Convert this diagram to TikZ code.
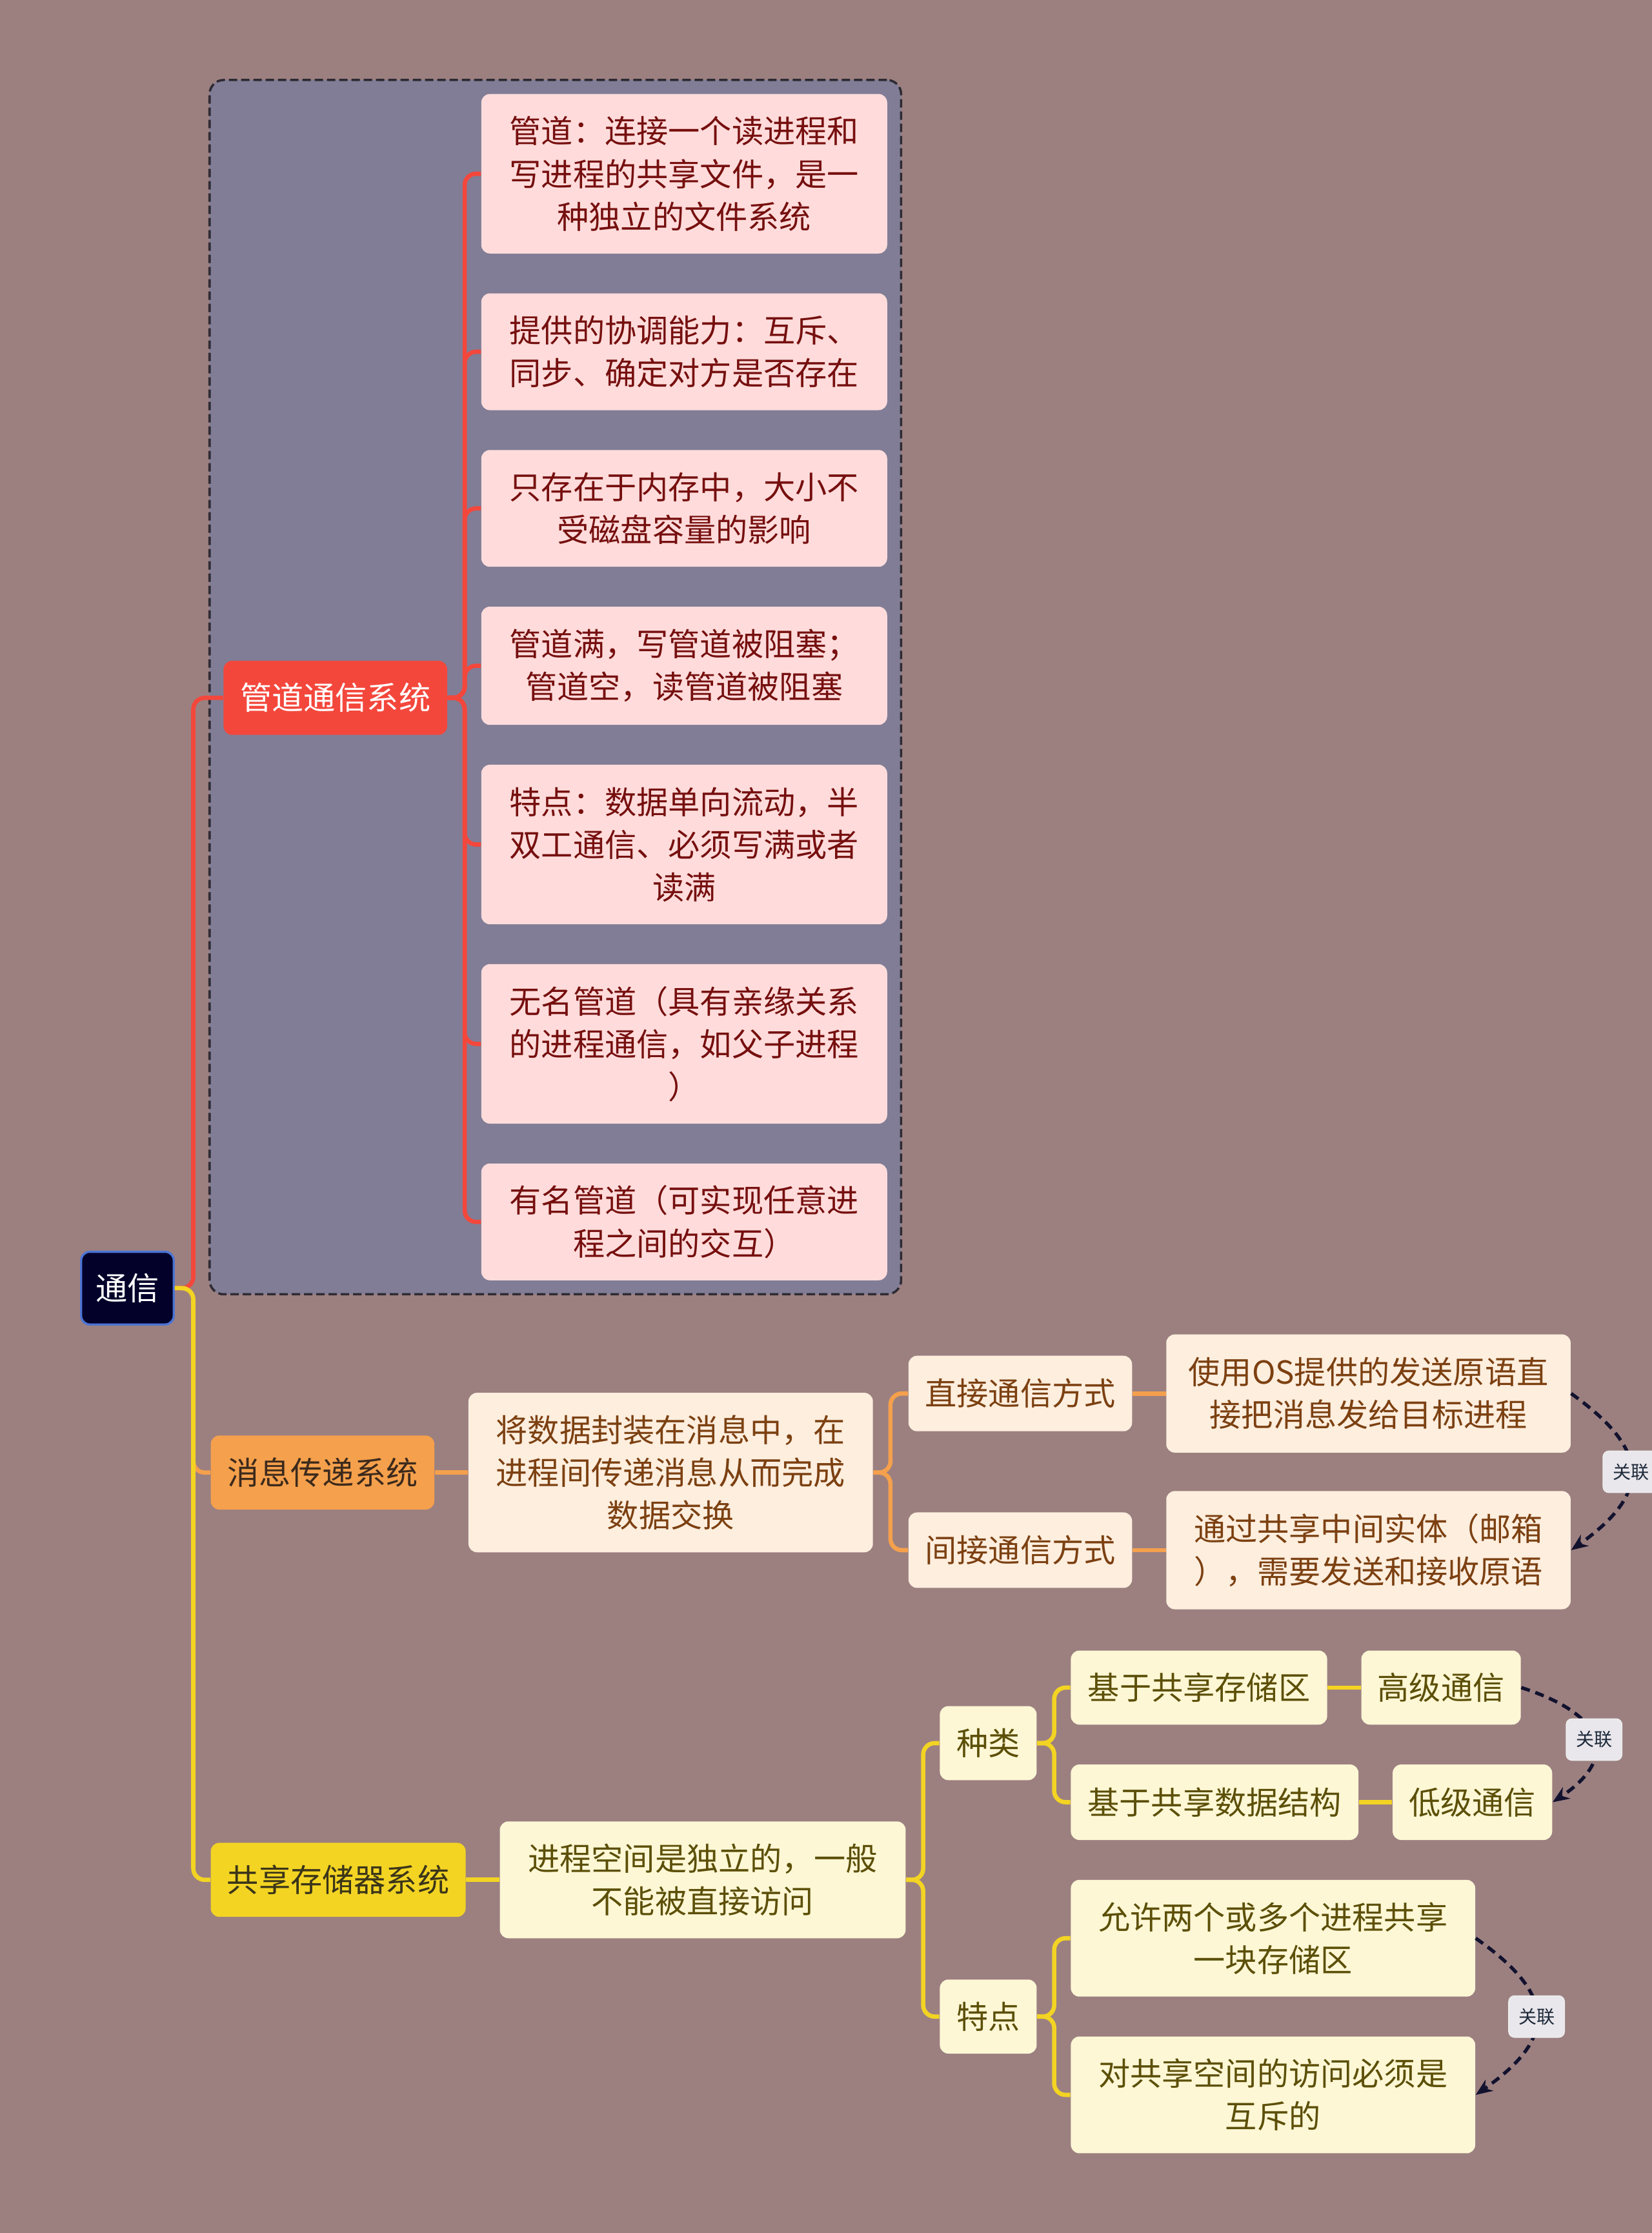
\documentclass[tikz,border=0pt]{standalone}
\usepackage{fontspec}
\newfontfamily\cjk{Noto Sans CJK SC}
\usetikzlibrary{arrows.meta,fit,backgrounds}

\newcommand{\pxl}{0.22069mm}

\definecolor{pagebg}{HTML}{9C8080}
\definecolor{grpbg}{HTML}{817D96}
\definecolor{grpline}{HTML}{2E2A33}
\definecolor{rootnavy}{HTML}{03002A}
\definecolor{rootblue}{HTML}{4C74D4}
\definecolor{mainred}{HTML}{F4473C}
\definecolor{leafpink}{HTML}{FFDCDB}
\definecolor{txtred}{HTML}{760F0F}
\definecolor{mainorg}{HTML}{F5A04C}
\definecolor{txtdark}{HTML}{3C2A1C}
\definecolor{leafpeach}{HTML}{FDEEDE}
\definecolor{txtbrown}{HTML}{7C4011}
\definecolor{mainyel}{HTML}{F3D423}
\definecolor{txtyel}{HTML}{3B3519}
\definecolor{leafcream}{HTML}{FDF7D5}
\definecolor{txtolive}{HTML}{5C4F08}
\definecolor{relnavy}{HTML}{12122E}
\definecolor{tagfill}{HTML}{E9E7EC}
\definecolor{tagtext}{HTML}{1E2A3A}

\tikzset{
  topic/.style={rounded corners=6*\pxl, inner sep=0pt, align=center,
    font=\cjk\fontsize{14}{18.8}\selectfont},
  rootbox/.style={topic, fill=rootnavy, draw=rootblue, line width=1.5*\pxl,
    text=white, minimum width=65*\pxl, minimum height=51*\pxl},
  redmain/.style={topic, fill=mainred, text=white,
    minimum width=157*\pxl, minimum height=52*\pxl},
  redleaf/.style={topic, fill=leafpink, text=txtred, minimum width=285*\pxl},
  orgmain/.style={topic, fill=mainorg, text=txtdark,
    minimum width=157*\pxl, minimum height=52*\pxl},
  orgleaf/.style={topic, fill=leafpeach, text=txtbrown},
  yelmain/.style={topic, fill=mainyel, text=txtyel,
    minimum width=179*\pxl, minimum height=52*\pxl},
  yelleaf/.style={topic, fill=leafcream, text=txtolive},
  grpframe/.style={draw=grpline, fill=grpbg, line width=1pt,
    dash pattern=on 1.3mm off 0.6mm, rounded corners=2.2mm, inner sep=2.1mm},
  redline/.style={draw=mainred, line width=3*\pxl, rounded corners=8*\pxl},
  orgline/.style={draw=mainorg, line width=3*\pxl, rounded corners=8*\pxl},
  yelline/.style={draw=mainyel, line width=3*\pxl, rounded corners=8*\pxl},
  relline/.style={draw=relnavy, line width=1.5pt, dash pattern=on 1.4mm off 0.9mm,
    -{Stealth[length=2.6mm,width=2.1mm]}},
  reltag/.style={solid, fill=tagfill, draw=white!85!gray, line width=0.5pt,
    rounded corners=4*\pxl, text=tagtext, font=\cjk\fontsize{8}{9}\selectfont,
    minimum width=39*\pxl, minimum height=29*\pxl, inner sep=0pt},
}

\begin{document}
\begin{tikzpicture}[x=\pxl, y=-\pxl]
  \useasboundingbox (0,0) rectangle (1160,1568);

  % root and pipe branch
  \node[rootbox] (root) at (89.5,904.5) {通信};
  \node[redmain] (gd) at (235.5,490) {管道通信系统};
  \node[redleaf, minimum height=112*\pxl] (p1) at (480.5,122)
    {管道：连接一个读进程和\\写进程的共享文件，是一\\种独立的文件系统};
  \node[redleaf, minimum height=82*\pxl] (p2) at (480.5,247)
    {提供的协调能力：互斥、\\同步、确定对方是否存在};
  \node[redleaf, minimum height=82*\pxl] (p3) at (480.5,357)
    {只存在于内存中，大小不\\受磁盘容量的影响};
  \node[redleaf, minimum height=83*\pxl] (p4) at (480.5,467.5)
    {管道满，写管道被阻塞；\\管道空，读管道被阻塞};
  \node[redleaf, minimum height=112*\pxl] (p5) at (480.5,593)
    {特点：数据单向流动，半\\双工通信、必须写满或者\\读满};
  \node[redleaf, minimum height=112*\pxl] (p6) at (480.5,733)
    {无名管道（具有亲缘关系\\的进程通信，如父子进程\\）};
  \node[redleaf, minimum height=82*\pxl] (p7) at (480.5,858)
    {有名管道（可实现任意进\\程之间的交互）};

  % message branch
  \node[orgmain] (xx) at (226.5,1034) {消息传递系统};
  \node[orgleaf, minimum width=284*\pxl, minimum height=112*\pxl] (x1) at (471,1034)
    {将数据封装在消息中，在\\进程间传递消息从而完成\\数据交换};
  \node[orgleaf, minimum width=157*\pxl, minimum height=53*\pxl] (x2) at (716.5,978.5)
    {直接通信方式};
  \node[orgleaf, minimum width=157*\pxl, minimum height=53*\pxl] (x3) at (716.5,1088.5)
    {间接通信方式};
  \node[orgleaf, minimum width=284*\pxl, minimum height=83*\pxl] (x4) at (961,978.5)
    {使用OS提供的发送原语直\\接把消息发给目标进程};
  \node[orgleaf, minimum width=284*\pxl, minimum height=83*\pxl] (x5) at (961,1088.5)
    {通过共享中间实体（邮箱\\），需要发送和接收原语};

  % shared memory branch
  \node[yelmain] (gx) at (237.5,1320) {共享存储器系统};
  \node[yelleaf, minimum width=285*\pxl, minimum height=82*\pxl] (g1) at (493.5,1320)
    {进程空间是独立的，一般\\不能被直接访问};
  \node[yelleaf, minimum width=68*\pxl, minimum height=52*\pxl] (g2) at (694,1224) {种类};
  \node[yelleaf, minimum width=68*\pxl, minimum height=52*\pxl] (g3) at (694,1416) {特点};
  \node[yelleaf, minimum width=180*\pxl, minimum height=52*\pxl] (g4) at (842,1185)
    {基于共享存储区};
  \node[yelleaf, minimum width=112*\pxl, minimum height=52*\pxl] (g5) at (1012,1185)
    {高级通信};
  \node[yelleaf, minimum width=202*\pxl, minimum height=53*\pxl] (g6) at (853,1265.5)
    {基于共享数据结构};
  \node[yelleaf, minimum width=112*\pxl, minimum height=53*\pxl] (g7) at (1034,1265.5)
    {低级通信};
  \node[yelleaf, minimum width=284*\pxl, minimum height=82*\pxl] (g8) at (894,1361)
    {允许两个或多个进程共享\\一块存储区};
  \node[yelleaf, minimum width=284*\pxl, minimum height=82*\pxl] (g9) at (894,1471)
    {对共享空间的访问必须是\\互斥的};

  \begin{scope}[on background layer]
    \fill[pagebg] (0,0) rectangle (1160,1568);
    \node[grpframe, fit=(gd)(p1)(p7)] (grp) {};
  \end{scope}

  % connectors
  \draw[redline] (root.east) -- ++(13,0) |- (gd.west);
  \draw[orgline] (root.east) -- ++(13,0) |- (xx.west);
  \draw[yelline] (root.east) -- ++(13,0) |- (gx.west);
  \foreach \k in {p1,p2,p3,p4,p5,p6,p7}
    \draw[redline] (gd.east) -- ++(12,0) |- (\k.west);

  \draw[orgline] (xx.east) -- (x1.west);
  \foreach \k in {x2,x3}
    \draw[orgline] (x1.east) -- ++(12,0) |- (\k.west);
  \draw[orgline] (x2.east) -- (x4.west);
  \draw[orgline] (x3.east) -- (x5.west);

  \draw[yelline] (gx.east) -- (g1.west);
  \foreach \k in {g2,g3}
    \draw[yelline] (g1.east) -- ++(12,0) |- (\k.west);
  \foreach \k in {g4,g6}
    \draw[yelline] (g2.east) -- ++(12,0) |- (\k.west);
  \foreach \k in {g8,g9}
    \draw[yelline] (g3.east) -- ++(12,0) |- (\k.west);
  \draw[yelline] (g4.east) -- (g5.west);
  \draw[yelline] (g6.east) -- (g7.west);

  % relations
  \draw[relline] (x4.east) .. controls +(56,40) and +(56,-40) .. node[reltag] (r1) {关联} (x5.east);
  \draw[relline] (g5.east) .. controls +(62,20) and +(45,-30) .. node[reltag] (r2) {关联} (g7.east);
  \draw[relline] (g8.east) .. controls +(57,40) and +(57,-40) .. node[reltag] (r3) {关联} (g9.east);
\end{tikzpicture}
\end{document}
